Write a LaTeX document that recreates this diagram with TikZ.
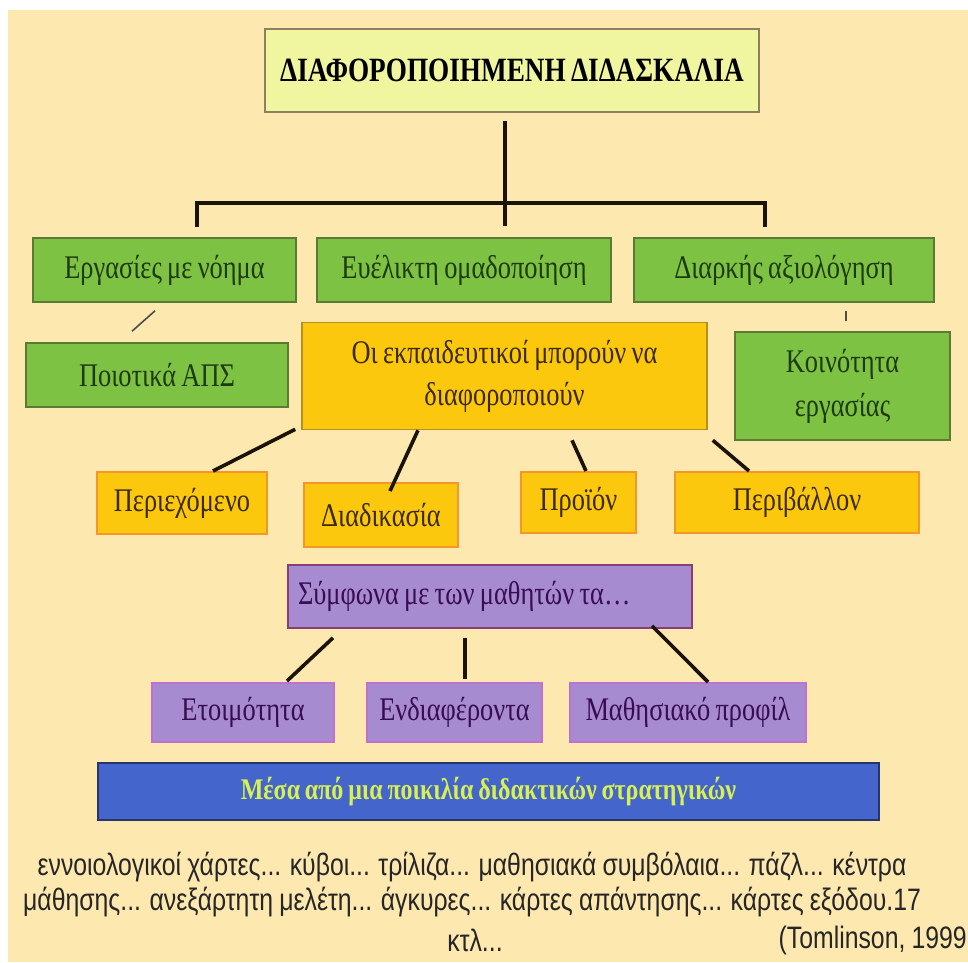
\documentclass[tikz,border=0pt]{standalone}
\usepackage{fontspec}
\setmainfont{Liberation Serif}[FakeStretch=0.8, WordSpace=0.8]
\newfontfamily\botfont{Liberation Sans}[FakeStretch=0.8, WordSpace=0.9]
\usetikzlibrary{calc}
\definecolor{cream}{HTML}{FDE8B0}
\definecolor{titlefill}{HTML}{F0F5A0}
\definecolor{titleline}{HTML}{8C8060}
\definecolor{greenfill}{HTML}{7DC242}
\definecolor{greenline}{HTML}{5A7A35}
\definecolor{greentext}{HTML}{1E3A12}
\definecolor{yelfill}{HTML}{FCC80E}
\definecolor{yelline}{HTML}{B89020}
\definecolor{orline}{HTML}{F5962A}
\definecolor{yeltext}{HTML}{3A2A08}
\definecolor{purfill}{HTML}{A68BD0}
\definecolor{purline}{HTML}{8A3E78}
\definecolor{purglow}{HTML}{C070D0}
\definecolor{purtext}{HTML}{3A0C52}
\definecolor{bluefill}{HTML}{4466CC}
\definecolor{blueline}{HTML}{28346E}
\definecolor{bluetext}{HTML}{D8F050}
\definecolor{bottext}{HTML}{262626}
\definecolor{linecol}{HTML}{1A1408}
\tikzset{
  basebox/.style={draw, line width=1.6pt, inner sep=0pt, align=center, font=\fontsize{33}{44}\selectfont},
  titlebox/.style={basebox, fill=titlefill, draw=titleline, text=black, font=\fontsize{34}{38}\selectfont\bfseries},
  greenbox/.style={basebox, fill=greenfill, draw=greenline, text=greentext},
  yelbox/.style={basebox, fill=yelfill, draw=yelline, text=yeltext, font=\fontsize{33}{42}\selectfont},
  orbox/.style={basebox, fill=yelfill, draw=orline, line width=2pt, text=yeltext},
  purbox/.style={draw, line width=1.6pt, inner sep=0pt, inner xsep=10pt, font=\fontsize{33}{44}\selectfont, fill=purfill, draw=purline, text=purtext},
  purbox2/.style={basebox, fill=purfill, draw=purglow, line width=2pt, text=purtext},
  bluebox/.style={basebox, fill=bluefill, draw=blueline, line width=2pt, text=bluetext, font=\fontsize{30}{34}\selectfont\bfseries},
  bottxt/.style={inner sep=0pt, text=bottext, font=\botfont\fontsize{31}{36}\selectfont},
  conn/.style={draw=linecol, line width=3.6pt},
  thinconn/.style={draw=black!70, line width=1.6pt},
}
\begin{document}
\begin{tikzpicture}[x=1pt,y=-1pt]
\useasboundingbox (0,0) rectangle (968,962);
\fill[white] (0,0) rectangle (968,962);
\fill[cream] (8,10) rectangle (968,962);

% title
\node[titlebox, minimum width=494pt, minimum height=83pt] (title) at (512,70.5) {ΔΙΑΦΟΡΟΠΟΙΗΜΕΝΗ ΔΙΔΑΣΚΑΛΙΑ};

% green row
\node[greenbox, minimum width=263pt, minimum height=64pt] (g1) at (164.5,270) {Εργασίες με νόημα};
\node[greenbox, minimum width=294pt, minimum height=64pt] (g2) at (464,270) {Ευέλικτη ομαδοποίηση};
\node[greenbox, minimum width=300pt, minimum height=64pt] (g3) at (784,270) {Διαρκής αξιολόγηση};
\node[greenbox, minimum width=262pt, minimum height=64pt] (g4) at (157,375) {Ποιοτικά ΑΠΣ};
\node[greenbox, minimum width=215pt, minimum height=108pt] (g5) at (842.5,386) {Κοινότητα\\εργασίας};

% yellow
\node[yelbox, minimum width=405pt, minimum height=107pt] (y0) at (504.5,376) {Οι εκπαιδευτικοί μπορούν να\\διαφοροποιούν};
\node[orbox, minimum width=170pt, minimum height=62pt] (o1) at (182,503) {Περιεχόμενο};
\node[orbox, minimum width=154pt, minimum height=64pt] (o2) at (381,515) {Διαδικασία};
\node[orbox, minimum width=115pt, minimum height=61pt] (o3) at (578.5,502.5) {Προϊόν};
\node[orbox, minimum width=244pt, minimum height=61pt] (o4) at (797,502.5) {Περιβάλλον};

% purple
\node[purbox, minimum height=63pt] (p0) at (490,596.5) {\makebox[384pt][l]{Σύμφωνα με των μαθητών τα…}};
\node[purbox2, minimum width=182pt, minimum height=59pt] (p1) at (243,712.5) {Ετοιμότητα};
\node[purbox2, minimum width=175pt, minimum height=59pt] (p2) at (454.5,712.5) {Ενδιαφέροντα};
\node[purbox2, minimum width=236pt, minimum height=59pt] (p3) at (688,712.5) {Μαθησιακό προφίλ};

% blue
\node[bluebox, minimum width=781pt, minimum height=57pt] (b0) at (488.5,791.5) {Μέσα από μια ποικιλία διδακτικών στρατηγικών};

% bottom text
\node[bottxt] (t1) at (472,867) {εννοιολογικοί χάρτες... κύβοι... τρίλιζα... μαθησιακά συμβόλαια... πάζλ... κέντρα};
\node[bottxt] (t2) at (472,902) {μάθησης... ανεξάρτητη μελέτη... άγκυρες... κάρτες απάντησης... κάρτες εξόδου.17};
\node[bottxt] (t3) at (475,940) {κτλ...};
\node[bottxt, anchor=east] (t4) at (967,940) {(Tomlinson, 1999};

% bracket
\coordinate (brk) at (505,203);
\draw[conn, line width=3.2pt] ($(title.south)+(-7,8)$) -- ($(g2.north)+(41,-11)$);
\draw[conn, line width=3.2pt] ($(g1.north)+(32.5,-10)$) |- (brk) -| ($(g3.north)+(-19,-10)$);

% thin ticks
\draw[thinconn] ($(g1.south)+(-9.5,8)$) -- ($(g4.north)+(-25,-11)$);
\draw[thinconn] ($(g3.south)+(62,8)$) -- ($(g5.north)+(3.5,-10)$);

% yellow connectors
\draw[conn] ($(y0.south west)+(-6,-1)$) -- ($(o1.north)+(31,0)$);
\draw[conn] ($(y0.south)+(-86.5,0)$) -- ($(o2.north)+(9,9)$);
\draw[conn] ($(y0.south)+(67.5,10)$) -- ($(o3.north)+(7.5,0)$);
\draw[conn] ($(y0.south east)+(5,10)$) -- ($(o4.north)+(-48,0)$);

% purple connectors
\draw[conn] ($(p0.south)+(-157,9)$) -- ($(p1.north)+(44,-1)$);
\draw[conn] ($(p0.south)+(-25,9)$) -- ($(p2.north)+(10.5,-3)$);
\draw[conn] ($(p0.south)+(162,-3)$) -- ($(p3.north)+(20,0)$);
\end{tikzpicture}
\end{document}
